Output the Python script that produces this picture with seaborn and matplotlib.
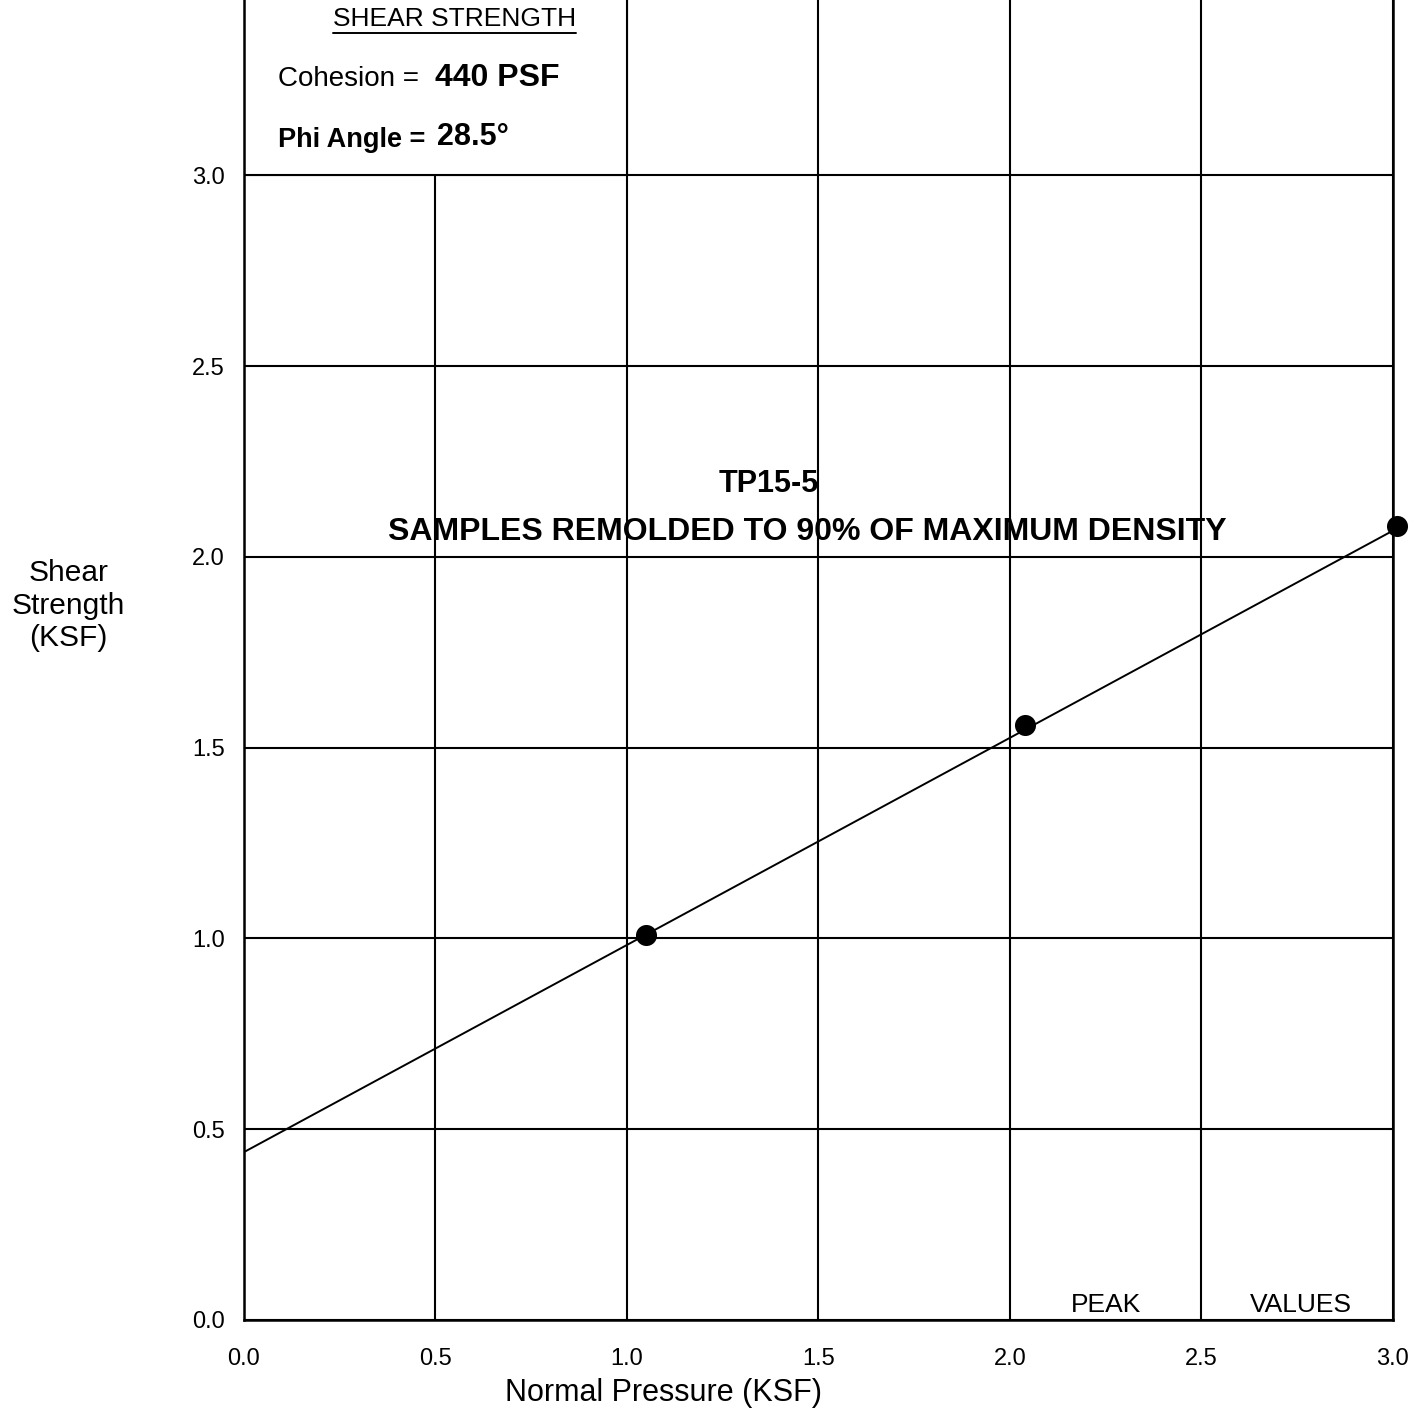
import numpy as np
import pandas as pd
import matplotlib
matplotlib.use("Agg")
import matplotlib.pyplot as plt
from matplotlib.patches import Rectangle
import seaborn as sns

# Direct shear test results, peak values
normal_pressure = [1.05, 2.04, 3.01]    # KSF
shear_strength = [1.01, 1.56, 2.08]     # KSF

cohesion_psf = 440
phi_angle_deg = 28.5

x_ticks = [0.0, 0.5, 1.0, 1.5, 2.0, 2.5, 3.0]
y_ticks = [0.0, 0.5, 1.0, 1.5, 2.0, 2.5, 3.0]

sns.set_theme(style="white")
plt.rcParams["font.family"] = ["Liberation Sans", "DejaVu Sans"]
plt.rcParams["text.color"] = "black"
plt.rcParams["axes.labelcolor"] = "black"
plt.rcParams["xtick.color"] = "black"
plt.rcParams["ytick.color"] = "black"

fig = plt.figure(figsize=(14.21, 14.12), dpi=100)
ax = fig.add_axes([0.1717, 0.0652, 0.8085, 0.9348])

# Mohr-Coulomb failure envelope from cohesion and friction angle
env_x = np.array([0.0, normal_pressure[-1]])
env_y = cohesion_psf / 1000.0 + np.tan(np.radians(phi_angle_deg)) * env_x
sns.lineplot(x=env_x, y=env_y, ax=ax, color="black", linewidth=1.4, zorder=3)

sns.scatterplot(x=normal_pressure, y=shear_strength, ax=ax, color="black",
                s=230, edgecolor="black", linewidth=0, zorder=4, clip_on=False)

ax.set_xlim(0, 3.0)
ax.set_ylim(0, 3.46)
ax.set_xticks(x_ticks)
ax.set_yticks(y_ticks)
ax.set_xticklabels([f"{v:.1f}" for v in x_ticks], fontsize=17)
ax.set_yticklabels([f"{v:.1f}" for v in y_ticks], fontsize=17)
ax.tick_params(axis="x", length=0, pad=20)
ax.tick_params(axis="y", length=0, pad=14)

ax.set_axisbelow(True)
ax.grid(True, color="black", linewidth=1.5)
for side in ["left", "bottom", "right"]:
    ax.spines[side].set_color("black")
    ax.spines[side].set_linewidth(1.8)
ax.spines["top"].set_visible(False)

ax.set_xlabel("Normal Pressure (KSF)", fontsize=22, va="center")
ax.xaxis.set_label_coords(0.365, -0.0554)
ax.set_ylabel("Shear\nStrength\n(KSF)", fontsize=21.5, rotation=0,
              ha="center", va="center", labelpad=0)
ax.yaxis.set_label_coords(-0.153, 0.541)

# Results box in the upper left corner
ax.add_patch(Rectangle((0.0, 3.0), 1.0, 0.5, facecolor="white",
                       edgecolor="black", linewidth=1.5, zorder=1.5))
title_box = ax.text(0.55, 3.41, "SHEAR STRENGTH", fontsize=19, ha="center",
                    va="center", zorder=5)
ax.text(0.088, 3.253, "Cohesion = ", fontsize=20, ha="left", va="center",
        zorder=5)
ax.text(0.5, 3.255, f"{cohesion_psf} PSF", fontsize=23, fontweight="bold",
        ha="left", va="center", zorder=5)
ax.text(0.088, 3.093, "Phi Angle = ", fontsize=19.5, fontweight="bold",
        ha="left", va="center", zorder=5)
ax.text(0.505, 3.1, f"{phi_angle_deg}°", fontsize=22, fontweight="bold",
        ha="left", va="center", zorder=5)

# Underline the box heading
fig.canvas.draw()
bb = title_box.get_window_extent().transformed(ax.transData.inverted())
ax.plot([bb.x0, bb.x1], [bb.y0 - 0.004, bb.y0 - 0.004], color="black",
        linewidth=1.4, zorder=5)

ax.text(1.37, 2.19, "TP15-5", fontsize=22, fontweight="bold", ha="center",
        va="center", zorder=5)
ax.text(1.47, 2.065, "SAMPLES REMOLDED TO 90% OF MAXIMUM DENSITY", fontsize=23,
        fontweight="bold", ha="center", va="center", zorder=5)

ax.text(2.25, 0.04, "PEAK", fontsize=19, ha="center", va="center", zorder=5)
ax.text(2.76, 0.04, "VALUES", fontsize=19, ha="center", va="center", zorder=5)

fig.savefig("out.png", dpi=100, facecolor="white")
